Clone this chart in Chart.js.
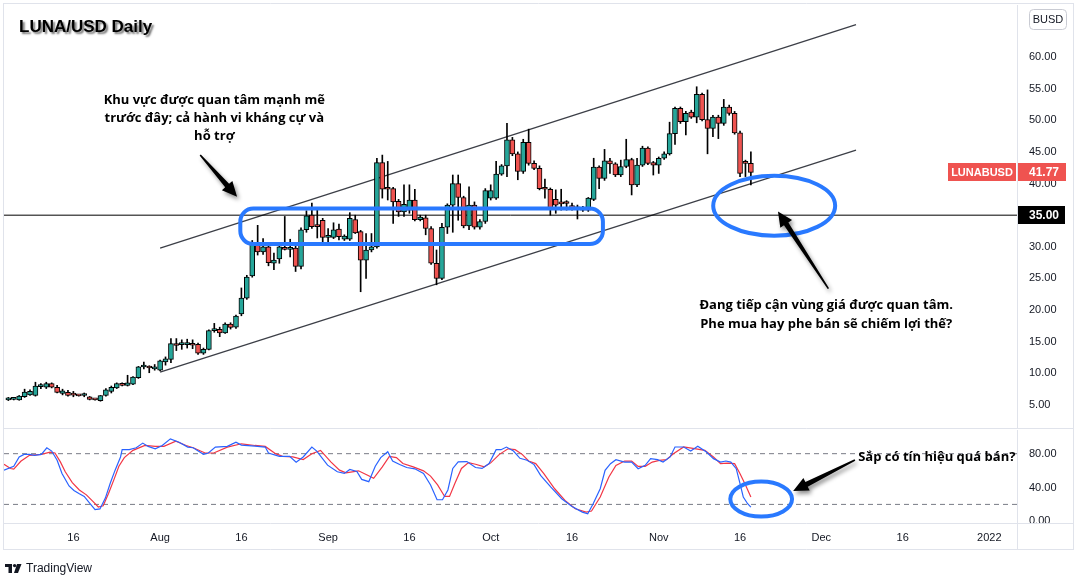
<!DOCTYPE html>
<html>
<head>
<meta charset="utf-8">
<title>LUNA/USD Daily</title>
<script src="https://cdn.jsdelivr.net/npm/chart.js@4.4.1/dist/chart.umd.min.js"></script>
<style>
  html, body { margin: 0; padding: 0; background: #fff; }
  body { width: 1078px; height: 578px; position: relative; overflow: hidden; }
  canvas { position: absolute; left: 0; }
  #priceChart { top: 0; }
  #stochChart { top: 428px; }
</style>
</head>
<body>
<canvas id="priceChart" width="1078" height="430"></canvas>
<canvas id="stochChart" width="1078" height="150"></canvas>
<script>
// day numbers count from 1 Jul 2021 (day 0); first candle is 4 Jul
const firstDay = 3;

const open = [
  5.8, 5.9, 5.8, 6.3, 6.6, 6.5, 7.9, 7.8, 8.4, 7.8,
  6.85, 7.0, 6.6, 6.5, 6.5, 6.3, 5.9, 5.7, 6.5, 7.15,
  7.7, 8.4, 8.1, 8.3, 9.3, 11.0, 10.9, 10.7, 10.5, 11.8,
  12.2, 14.7, 14.55, 14.55, 14.5, 14.6, 13.2, 13.8, 16.75, 16.95,
  16.4, 17.8, 17.3, 19.4, 21.9, 25.4, 30.7, 29.2, 30.0, 27.4,
  28.1, 29.9, 29.6, 29.8, 26.9, 32.7, 35.0, 33.4, 34.2, 31.5,
  31.5, 32.8, 31.2, 31.2, 34.3, 32.4, 27.9, 29.5, 30.0, 43.3,
  39.3, 39.2, 37.2, 35.5, 35.8, 37.4, 34.3, 34.6, 32.9, 27.4,
  25.0, 33.1, 36.6, 40.0, 37.8, 33.3, 36.6, 33.1, 34.0, 37.7,
  37.7, 41.5, 42.8, 46.9, 44.7, 41.9, 46.5, 43.2, 42.4, 39.2,
  39.1, 37.5, 36.9, 36.9, 36.3, 36.0, 36.1, 35.8, 37.5, 42.6,
  40.8, 43.6, 43.1, 41.35, 42.7, 43.8, 39.8, 42.9, 45.6, 43.3,
  42.9, 44.0, 44.7, 47.9, 51.9, 49.8, 51.3, 50.5, 54.1, 50.1,
  48.7, 50.5, 49.5, 52.1, 51.1, 48.0, 43.3, 43.2
];
const high = [
  6.2, 6.1, 6.5, 7.5, 7.4, 8.6, 8.4, 8.6, 8.5, 8.1,
  7.5, 7.3, 7.15, 6.6, 6.9, 6.35, 5.95, 6.5, 7.6, 8.0,
  8.5, 8.5, 9.7, 9.5, 11.1, 11.8, 11.2, 11.4, 12.1, 12.6,
  15.5, 15.5, 15.3, 15.4, 15.3, 14.8, 14.0, 16.9, 17.9, 17.3,
  18.0, 18.0, 19.2, 23.5, 25.5, 31.0, 33.4, 31.3, 30.5, 29.0,
  30.6, 34.8, 31.2, 30.2, 33.0, 35.7, 36.9, 36.1, 34.5, 32.9,
  33.8, 33.6, 31.9, 35.4, 35.0, 32.6, 32.1, 32.1, 44.0, 44.5,
  43.5, 39.4, 37.5, 39.8, 39.8, 39.1, 35.0, 35.0, 33.2, 29.5,
  33.7, 36.8, 41.35, 41.35, 38.0, 39.5, 37.1, 34.3, 39.2, 39.8,
  43.5, 43.0, 49.5, 47.3, 45.0, 47.0, 48.6, 43.6, 42.8, 40.7,
  39.3, 39.0, 39.1, 37.3, 36.9, 36.6, 36.4, 37.8, 44.0, 42.8,
  45.4, 44.0, 43.3, 43.7, 47.0, 44.0, 44.0, 45.9, 45.8, 43.5,
  44.2, 45.0, 49.7, 52.1, 52.1, 51.4, 51.6, 55.3, 54.3, 54.8,
  50.8, 50.8, 53.3, 52.4, 51.4, 48.3, 43.7, 45.0
];
const low = [
  5.7, 5.8, 5.75, 6.2, 6.5, 6.4, 7.6, 7.6, 7.7, 6.9,
  6.6, 6.4, 6.3, 6.4, 6.3, 5.8, 5.75, 5.6, 6.4, 6.9,
  7.6, 8.0, 8.0, 8.2, 9.2, 10.7, 10.1, 10.5, 10.4, 11.3,
  11.7, 13.6, 13.8, 14.0, 13.9, 13.0, 13.0, 13.7, 16.5, 15.8,
  16.3, 17.0, 17.1, 19.1, 21.7, 25.2, 28.7, 28.8, 27.0, 26.4,
  27.4, 29.5, 28.4, 26.1, 26.5, 32.3, 32.9, 31.4, 30.6, 30.6,
  31.3, 31.1, 31.0, 31.0, 32.1, 22.9, 25.0, 29.2, 29.8, 37.7,
  37.4, 33.7, 34.8, 34.8, 35.3, 34.1, 34.1, 31.9, 27.2, 24.0,
  24.8, 32.1, 32.3, 34.2, 33.0, 32.7, 32.8, 32.8, 33.7, 37.4,
  37.5, 41.3, 41.1, 44.4, 40.6, 41.6, 42.9, 42.2, 39.0, 37.7,
  35.0, 35.3, 35.8, 35.8, 35.8, 34.4, 35.6, 35.6, 37.3, 39.2,
  40.5, 41.6, 41.1, 41.1, 42.5, 38.2, 39.5, 42.7, 43.0, 41.35,
  41.6, 43.8, 44.5, 46.2, 49.5, 47.7, 50.3, 49.6, 49.9, 44.7,
  47.4, 47.1, 49.2, 50.8, 47.8, 41.1, 41.1, 39.8
];
const close = [
  6.0, 5.95, 6.4, 7.05, 7.15, 8.0, 7.95, 8.4, 7.8, 7.0,
  7.25, 6.5, 6.55, 6.45, 6.55, 5.9, 5.8, 6.5, 7.4, 7.8,
  8.4, 8.1, 8.5, 9.4, 11.05, 11.05, 10.85, 10.75, 12.0, 12.3,
  14.7, 14.4, 14.65, 14.65, 14.45, 13.2, 13.8, 16.75, 16.8, 16.4,
  17.8, 17.25, 19.05, 21.9, 25.2, 30.5, 29.2, 30.0, 27.5, 27.9,
  30.0, 29.6, 29.9, 26.9, 32.7, 34.9, 33.2, 33.2, 31.5, 31.7,
  32.7, 31.6, 31.7, 34.5, 32.2, 27.9, 29.5, 30.0, 43.3, 39.1,
  39.1, 37.1, 35.5, 36.7, 37.4, 34.3, 34.7, 32.9, 27.4, 25.0,
  33.1, 36.6, 40.0, 37.8, 33.3, 36.6, 33.1, 34.0, 38.9, 38.9,
  41.5, 42.8, 46.9, 44.7, 41.9, 46.5, 43.2, 42.4, 39.2, 39.1,
  35.9, 36.6, 36.8, 36.85, 36.2, 36.05, 35.8, 37.7, 42.6, 40.8,
  43.6, 43.1, 41.35, 42.7, 43.8, 39.8, 42.9, 45.6, 43.2, 42.9,
  44.0, 44.7, 47.9, 51.9, 49.8, 51.1, 50.5, 54.1, 50.1, 48.7,
  50.5, 49.5, 52.1, 51.1, 48.0, 41.6, 43.2, 41.77
];
const days = close.map((_, i) => firstDay + i);

// stochastic (day, value)
const stochKDays = [
  2.2, 4.0, 5.0, 5.9, 6.9, 7.8, 9.1, 10.1, 11.0, 12.0,
  12.9, 14.2, 15.1, 16.1, 17.0, 18.0, 19.0, 19.9, 20.9, 21.8,
  22.7, 23.7, 24.0, 25.3, 26.6, 27.8, 28.8, 30.1, 31.4, 32.9,
  34.5, 36.1, 37.1, 39.0, 39.9, 41.2, 43.4, 45.0, 46.0, 48.5,
  50.4, 51.0, 53.0, 54.9, 56.1, 57.4, 59.0, 59.9, 61.9, 63.7,
  65.0, 66.0, 67.3, 68.2, 69.5, 70.7, 71.7, 73.0, 73.9, 75.2,
  76.5, 78.0, 79.6, 80.9, 82.1, 83.1, 84.1, 85.0, 86.0, 87.6,
  89.2, 90.4, 91.7, 93.0, 93.9, 94.9, 96.2, 97.4, 98.7, 100.0,
  101.2, 103.1, 105.1, 107.0, 108.9, 109.9, 110.9, 112.2, 113.1, 114.1,
  115.1, 116.7, 118.0, 119.2, 120.5, 121.5, 122.8, 123.8, 125.1, 126.0,
  127.6, 128.9, 130.2, 131.8, 133.1, 134.4, 135.4, 136.3, 137.3, 138.0,
  138.6, 139.4, 140.0
];
const stochK = [
  60.5, 65.2, 76.1, 79.2, 79.2, 78.1, 79.2, 87.0, 83.1, 72.2,
  56.6, 41.8, 36.4, 32.5, 29.4, 21.6, 13.8, 14.6, 27.4, 45.0,
  60.5, 76.1, 84.7, 84.7, 87.0, 92.5, 88.6, 85.8, 89.7, 97.5,
  93.6, 87.8, 87.0, 79.2, 80.8, 87.8, 88.6, 93.6, 90.1, 89.0,
  87.8, 80.8, 76.9, 76.9, 69.9, 76.1, 87.8, 83.1, 66.4, 58.6,
  56.6, 61.3, 59.0, 49.6, 46.9, 65.2, 75.3, 82.3, 71.4, 67.1,
  63.6, 62.1, 56.6, 43.0, 25.5, 25.5, 37.1, 62.5, 70.3, 70.7,
  63.6, 62.5, 68.3, 84.7, 84.7, 87.8, 83.1, 74.5, 72.2, 67.1,
  54.3, 40.5, 26.7, 17.6, 10.9, 8.9, 20.8, 38.5, 60.3, 68.2,
  72.9, 70.1, 70.1, 62.2, 66.2, 74.1, 72.9, 70.1, 76.1, 87.9,
  87.9, 83.2, 88.7, 82.0, 74.1, 70.1, 71.3, 70.1, 62.2, 44.5,
  28.7, 20.8, 16.8
];
const stochDDays = [
  2.2, 3.4, 4.0, 5.3, 6.9, 9.1, 10.7, 11.6, 12.6, 13.5,
  14.8, 16.1, 17.4, 18.6, 19.6, 20.5, 21.5, 22.5, 23.4, 24.4,
  26.0, 28.2, 30.1, 31.7, 33.9, 35.8, 37.1, 39.3, 40.9, 43.4,
  46.0, 48.5, 50.4, 52.3, 53.6, 55.5, 57.4, 59.0, 60.6, 62.5,
  64.1, 65.3, 67.6, 69.2, 70.4, 72.0, 73.3, 74.6, 75.8, 77.7,
  79.6, 80.9, 82.2, 83.5, 84.4, 85.4, 86.6, 87.9, 89.2, 90.8,
  92.0, 93.6, 95.2, 96.5, 97.8, 99.0, 100.3, 101.8, 103.8, 105.7,
  107.6, 109.6, 110.6, 112.2, 113.8, 115.1, 116.7, 118.0, 119.2, 120.5,
  121.8, 123.1, 124.4, 125.7, 127.6, 129.6, 131.5, 133.1, 134.4, 135.7,
  137.0, 138.0, 138.9, 140.0
];
const stochD = [
  67.5, 62.5, 61.7, 71.0, 78.1, 79.2, 81.9, 80.8, 70.3, 58.6,
  45.7, 37.1, 31.3, 23.5, 16.9, 18.4, 33.3, 49.6, 65.2, 75.3,
  83.9, 89.7, 88.6, 88.6, 94.8, 89.7, 87.0, 80.8, 80.8, 87.8,
  91.7, 89.7, 88.6, 80.0, 76.9, 76.1, 73.0, 80.0, 83.9, 70.3,
  60.5, 57.4, 59.7, 54.7, 50.8, 64.4, 76.9, 75.3, 68.3, 64.4,
  59.7, 53.5, 43.0, 29.4, 29.4, 45.0, 62.5, 69.5, 67.5, 64.4,
  69.1, 79.2, 85.8, 84.7, 79.2, 71.4, 68.3, 56.3, 38.5, 24.7,
  14.9, 10.9, 12.1, 28.7, 52.4, 66.2, 71.3, 71.3, 65.0, 65.0,
  70.1, 72.1, 72.9, 80.0, 87.9, 85.9, 83.9, 76.1, 68.2, 68.9,
  68.2, 56.3, 44.5, 28.7
];

const tickDays = [15, 31, 46, 62, 77, 92, 107, 123, 138, 153, 168, 184];
const tickLabels = ['16', 'Aug', '16', 'Sep', '16', 'Oct', '16', 'Nov', '16', 'Dec', '16', '2022'];
const priceTicks = [5, 10, 15, 20, 25, 30, 35, 40, 45, 50, 55, 60];
const stochTicks = [0, 40, 80];
const stochBands = [80, 20];

const lastPrice = 41.77;
const keyLevel = 35;
const channelDays = [31, 159.4];
const channelUpper = [29.8, 65.1];
const channelLower = [10.2, 45.3];

const xMin = 2.2, xMax = 189.1;

const upColor = '#26a69a';
const downColor = '#ef5350';
const markBlue = '#2979ff';
const textColor = '#131722';
const frameColor = '#e0e3eb';

Chart.defaults.font.family = "'Liberation Sans', Arial, sans-serif";
Chart.defaults.color = textColor;

function drawArrow(ctx, x1, y1, x2, y2) {
  const dx = x2 - x1, dy = y2 - y1, len = Math.hypot(dx, dy);
  const ux = dx / len, uy = dy / len, nx = -uy, ny = ux;
  const head = 15, headW = 7, tailW = 0.8, neckW = 2.6;
  const bx = x2 - ux * head, by = y2 - uy * head;
  ctx.save();
  ctx.shadowColor = 'rgba(0,0,0,0.45)';
  ctx.shadowBlur = 4;
  ctx.shadowOffsetX = 2;
  ctx.shadowOffsetY = 3;
  ctx.fillStyle = '#000';
  ctx.beginPath();
  ctx.moveTo(x1 + nx * tailW, y1 + ny * tailW);
  ctx.lineTo(bx + nx * neckW, by + ny * neckW);
  ctx.lineTo(bx + nx * headW, by + ny * headW);
  ctx.lineTo(x2, y2);
  ctx.lineTo(bx - nx * headW, by - ny * headW);
  ctx.lineTo(bx - nx * neckW, by - ny * neckW);
  ctx.lineTo(x1 - nx * tailW, y1 - ny * tailW);
  ctx.closePath();
  ctx.fill();
  ctx.restore();
}

function priceTag(ctx, x, yc, w, fill, text, font, align) {
  ctx.fillStyle = fill;
  ctx.fillRect(x, Math.round(yc) - 9, w, 18);
  ctx.fillStyle = '#fff';
  ctx.font = font;
  ctx.textBaseline = 'middle';
  ctx.textAlign = align;
  ctx.fillText(text, align === 'center' ? x + w / 2 : x + 11, Math.round(yc) + 0.5);
}

// overlays of the price pane
const priceOverlay = {
  id: 'priceOverlay',
  afterDatasetsDraw(chart) {
    const { ctx, scales: { x, y } } = chart;
    ctx.save();
    ctx.strokeStyle = markBlue;
    ctx.lineWidth = 4;
    // old range box
    const bx1 = x.getPixelForValue(45.8), bx2 = x.getPixelForValue(112.7);
    const by1 = y.getPixelForValue(36.05), by2 = y.getPixelForValue(30.44);
    ctx.beginPath();
    ctx.roundRect(bx1, by1, bx2 - bx1, by2 - by1, 13);
    ctx.stroke();
    // current zone ellipse
    const ex = x.getPixelForValue(144.3), ey = y.getPixelForValue(36.5);
    const erx = x.getPixelForValue(144.3 + 11.25) - ex;
    const ery = y.getPixelForValue(36.5) - y.getPixelForValue(36.5 + 4.74);
    ctx.beginPath();
    ctx.ellipse(ex, ey, erx, ery, 0, 0, Math.PI * 2);
    ctx.stroke();
    ctx.restore();
  },
  afterDraw(chart) {
    const { ctx, chartArea: a, scales: { x, y } } = chart;
    ctx.save();

    // frame
    ctx.strokeStyle = frameColor;
    ctx.lineWidth = 1;
    ctx.beginPath();
    ctx.moveTo(3.5, 3); ctx.lineTo(3.5, 430);
    ctx.moveTo(3, 3.5); ctx.lineTo(1074, 3.5);
    ctx.moveTo(1073.5, 3); ctx.lineTo(1073.5, 430);
    ctx.moveTo(3, a.bottom + 0.5); ctx.lineTo(1074, a.bottom + 0.5);
    ctx.stroke();

    // title
    ctx.save();
    ctx.shadowColor = 'rgba(0,0,0,0.55)';
    ctx.shadowBlur = 2;
    ctx.shadowOffsetX = 2;
    ctx.shadowOffsetY = 2;
    ctx.fillStyle = '#000';
    ctx.font = "bold 17px 'Liberation Sans', Arial";
    ctx.textBaseline = 'middle';
    ctx.textAlign = 'left';
    ctx.fillText('LUNA/USD Daily', 19, 27);
    ctx.restore();

    // currency button
    ctx.strokeStyle = '#c9cbd3';
    ctx.beginPath();
    ctx.roundRect(1029.5, 9.5, 37, 20, 4);
    ctx.stroke();
    ctx.fillStyle = textColor;
    ctx.font = "11px 'Liberation Sans', Arial";
    ctx.textAlign = 'center';
    ctx.textBaseline = 'middle';
    ctx.fillText('BUSD', 1048, 20);

    // price tags
    const yLast = y.getPixelForValue(lastPrice);
    priceTag(ctx, 948, yLast, 68, downColor, 'LUNABUSD', "bold 11px 'Liberation Sans', Arial", 'center');
    priceTag(ctx, a.right + 1, yLast, 48, downColor, lastPrice.toFixed(2), "bold 12px 'Liberation Sans', Arial", 'left');
    priceTag(ctx, a.right + 1, y.getPixelForValue(keyLevel), 47, '#000', keyLevel.toFixed(2), "bold 12px 'Liberation Sans', Arial", 'left');

    // arrows
    drawArrow(ctx, x.getPixelForValue(38.4), y.getPixelForValue(44.5), x.getPixelForValue(45.2), y.getPixelForValue(37.9));
    drawArrow(ctx, x.getPixelForValue(154.3), y.getPixelForValue(23.4), x.getPixelForValue(145.0), y.getPixelForValue(35.6));

    // notes
    ctx.fillStyle = '#000';
    ctx.font = "bold 13px 'Open Sans', 'Noto Sans', sans-serif";
    ctx.textAlign = 'center';
    ctx.textBaseline = 'middle';
    const n1x = x.getPixelForValue(41.0), n1y = y.getPixelForValue(53.2);
    ['Khu vực được quan tâm mạnh mẽ', 'trước đây; cả hành vi kháng cự và', 'hỗ trợ']
      .forEach((t, i) => ctx.fillText(t, n1x, n1y + i * 18));
    const n2x = x.getPixelForValue(153.9), n2y = y.getPixelForValue(20.8);
    ['Đang tiếp cận vùng giá được quan tâm.', 'Phe mua hay phe bán sẽ chiếm lợi thế?']
      .forEach((t, i) => ctx.fillText(t, n2x, n2y + i * 19));

    ctx.restore();
  }
};

new Chart(document.getElementById('priceChart'), {
  type: 'bar',
  data: {
    datasets: [
      {
        data: days.map((d, i) => ({ x: d, y: [open[i], close[i]] })),
        backgroundColor: close.map((c, i) => c >= open[i] ? upColor : downColor),
        borderColor: '#000',
        borderWidth: 1,
        borderSkipped: false,
        barThickness: 5,
        minBarLength: 2,
        grouped: false
      },
      {
        data: days.map((d, i) => ({ x: d, y: [low[i], high[i]] })),
        backgroundColor: '#000',
        barThickness: 1,
        grouped: false
      },
      {
        type: 'line',
        data: [{ x: xMin, y: keyLevel }, { x: xMax, y: keyLevel }],
        borderColor: '#000',
        borderWidth: 1,
        pointRadius: 0
      },
      {
        type: 'line',
        data: channelDays.map((d, i) => ({ x: d, y: channelUpper[i] })),
        borderColor: '#3c3f47',
        borderWidth: 1.3,
        pointRadius: 0
      },
      {
        type: 'line',
        data: channelDays.map((d, i) => ({ x: d, y: channelLower[i] })),
        borderColor: '#3c3f47',
        borderWidth: 1.3,
        pointRadius: 0
      }
    ]
  },
  options: {
    responsive: false,
    animation: false,
    events: [],
    layout: { padding: { left: 4, top: 5, right: 0, bottom: 2 } },
    plugins: { legend: { display: false }, tooltip: { enabled: false } },
    scales: {
      x: { type: 'linear', min: xMin, max: xMax, offset: false, display: false },
      y: {
        position: 'right',
        min: 1.365,
        max: 68.22,
        afterBuildTicks: s => { s.ticks = priceTicks.map(v => ({ value: v })); },
        afterFit: s => { s.width = 61; s.paddingTop = 0; s.paddingBottom = 0; },
        ticks: { padding: 12, font: { size: 11 }, color: textColor, callback: v => v.toFixed(2) },
        grid: { display: false, drawTicks: false },
        border: { display: true, color: frameColor }
      }
    }
  },
  plugins: [priceOverlay]
});

// overlays of the stochastic pane
const stochOverlay = {
  id: 'stochOverlay',
  afterDatasetsDraw(chart) {
    const { ctx, scales: { x, y } } = chart;
    ctx.save();
    ctx.strokeStyle = markBlue;
    ctx.lineWidth = 4;
    const ex = x.getPixelForValue(141.9), ey = y.getPixelForValue(26.3);
    const erx = x.getPixelForValue(141.9 + 5.7) - ex;
    const ery = y.getPixelForValue(26.3) - y.getPixelForValue(26.3 + 20.7);
    ctx.beginPath();
    ctx.ellipse(ex, ey, erx, ery, 0, 0, Math.PI * 2);
    ctx.stroke();
    ctx.restore();
  },
  afterDraw(chart) {
    const { ctx, chartArea: a, scales: { x, y } } = chart;
    ctx.save();
    // cut the 0.00 label at the pane border
    ctx.fillStyle = '#fff';
    ctx.fillRect(a.right + 1, a.bottom + 1, 1074 - a.right - 2, 10);

    ctx.strokeStyle = frameColor;
    ctx.lineWidth = 1;
    ctx.beginPath();
    ctx.moveTo(3.5, 0); ctx.lineTo(3.5, 122);
    ctx.moveTo(1073.5, 0); ctx.lineTo(1073.5, 122);
    ctx.moveTo(a.right + 0.5, a.bottom); ctx.lineTo(a.right + 0.5, 122);
    ctx.moveTo(3, a.bottom + 0.5); ctx.lineTo(1074, a.bottom + 0.5);
    ctx.moveTo(3, 121.5); ctx.lineTo(1074, 121.5);
    ctx.stroke();

    drawArrow(ctx, x.getPixelForValue(159.2), y.getPixelForValue(72.5), x.getPixelForValue(147.8), y.getPixelForValue(35.8));

    ctx.fillStyle = '#000';
    ctx.font = "bold 13px 'Open Sans', 'Noto Sans', sans-serif";
    ctx.textAlign = 'left';
    ctx.textBaseline = 'middle';
    ctx.fillText('Sắp có tín hiệu quá bán?', x.getPixelForValue(159.8), y.getPixelForValue(76));

    // TradingView mark
    ctx.fillStyle = textColor;
    ctx.fillRect(5, 136, 7, 3);
    ctx.fillRect(8.5, 136, 3.5, 9);
    ctx.beginPath();
    ctx.arc(14.6, 137.6, 1.7, 0, Math.PI * 2);
    ctx.fill();
    ctx.beginPath();
    ctx.moveTo(17, 136); ctx.lineTo(21.5, 136); ctx.lineTo(18, 145); ctx.lineTo(14, 145);
    ctx.closePath();
    ctx.fill();
    ctx.font = "12px 'Liberation Sans', Arial";
    ctx.textAlign = 'left';
    ctx.textBaseline = 'middle';
    ctx.fillText('TradingView', 26, 140.5);
    ctx.restore();
  }
};

new Chart(document.getElementById('stochChart'), {
  type: 'line',
  data: {
    datasets: [
      {
        data: stochKDays.map((d, i) => ({ x: d, y: stochK[i] })),
        borderColor: '#2962ff',
        borderWidth: 1.2,
        pointRadius: 0,
        tension: 0
      },
      {
        data: stochDDays.map((d, i) => ({ x: d, y: stochD[i] })),
        borderColor: '#f23645',
        borderWidth: 1.2,
        pointRadius: 0,
        tension: 0
      },
      ...stochBands.map(v => ({
        data: [{ x: xMin, y: v }, { x: xMax, y: v }],
        borderColor: '#787b86',
        borderWidth: 1,
        borderDash: [5, 4],
        pointRadius: 0
      }))
    ]
  },
  options: {
    responsive: false,
    animation: false,
    events: [],
    layout: { padding: { left: 4, top: 2, right: 0, bottom: 28 } },
    plugins: { legend: { display: false }, tooltip: { enabled: false } },
    scales: {
      x: {
        type: 'linear',
        min: xMin,
        max: xMax,
        afterBuildTicks: s => { s.ticks = tickDays.map(v => ({ value: v })); },
        afterFit: s => { s.height = 27; s.paddingLeft = 0; s.paddingRight = 0; },
        ticks: {
          autoSkip: false,
          maxRotation: 0,
          padding: 8,
          font: { size: 11 },
          color: textColor,
          callback: v => tickLabels[tickDays.indexOf(v)]
        },
        grid: { display: false, drawTicks: false },
        border: { display: false }
      },
      y: {
        position: 'right',
        min: -2,
        max: 108,
        afterBuildTicks: s => { s.ticks = stochTicks.map(v => ({ value: v })); },
        afterFit: s => { s.width = 61; s.paddingTop = 0; s.paddingBottom = 0; },
        ticks: { padding: 12, font: { size: 11 }, color: textColor, callback: v => v.toFixed(2) },
        grid: { display: false, drawTicks: false },
        border: { display: true, color: frameColor }
      }
    }
  },
  plugins: [stochOverlay]
});
</script>
</body>
</html>
